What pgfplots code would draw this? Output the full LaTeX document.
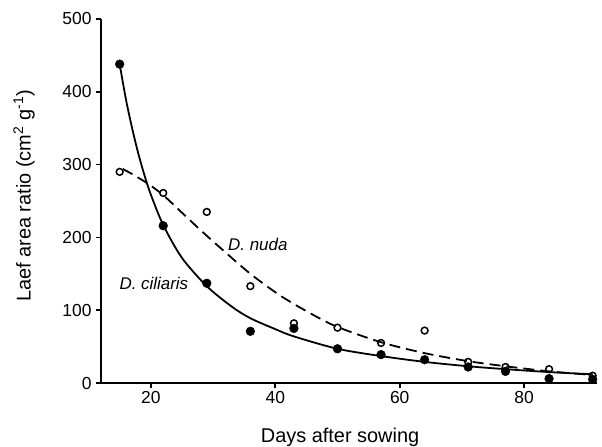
\documentclass[border=0pt]{standalone}
\usepackage{pgfplots}
\pgfplotsset{compat=1.18}
\usepackage{fontspec}
\setmainfont{Liberation Sans}
\begin{document}
\begin{tikzpicture}
\path[use as bounding box] (-101bp,-64bp) rectangle (501bp,383bp);
\begin{axis}[
  at={(0,0)}, anchor=south west,
  scale only axis, width=496bp, height=364bp,
  xmin=12, xmax=91.7, ymin=0, ymax=500,
  axis x line=bottom, axis y line=left,
  axis line style={-, line width=1.6pt},
  tick align=outside, major tick length=5bp,
  tick style={line width=1.6pt, black},
  xtick={20,40,60,80}, ytick={0,100,200,300,400,500},
  minor tick num=0,
  tick label style={font=\fontsize{17.5}{20}\selectfont},
  yticklabel style={xshift=-1bp},
  /pgf/number format/assume math mode=true,
  xlabel={Days after sowing},
  ylabel={Laef area ratio (cm\textsuperscript{2} g\textsuperscript{-1})},
  label style={font=\fontsize{20}{24}\selectfont},
  xlabel style={at={(axis description cs:0.482,-0.1648)}, anchor=base},
  ylabel style={at={(axis description cs:-0.1552,0.514)}, anchor=center},
  clip=false,
]
\addplot[black, line width=1.8pt, smooth] coordinates {
(15,438) (16,390) (17,350) (18,315) (19,285) (20,259) (22,217) (25,172) (29,133) (33,105) (36,89) (40,74) (43,64) (50,47) (57,37) (64,29) (71,23) (77,19) (84,15) (91,12)};
\addplot[black, line width=1.8pt, dash pattern=on 11bp off 6bp, smooth] coordinates {
(15.5,294) (17,287) (19.5,274) (22,258) (25,234) (28,210) (31,187) (36,150) (41,119) (46,94) (50,77) (57,56) (64,41) (71,30) (77,23) (84,16) (91,11)};
\addplot[only marks, mark=o, mark size=3.4bp, mark options={line width=1.5pt, fill=white, black}] coordinates {
(15,290) (22,261) (29,235) (36,133) (43,82) (50,76) (57,55) (64,72) (71,29) (77,22) (84,19) (91,10)};
\addplot[only marks, mark=*, mark size=4.4bp, mark options={black, fill=black}] coordinates {
(15,438) (22,216) (29,137) (36,71) (43,75) (50,47) (57,39) (64,32) (71,22) (77,16) (84,6) (91,5)};
\node[font=\itshape\fontsize{17}{20}\selectfont, anchor=west, inner sep=0pt] at (axis cs:32.4,191) {D. nuda};
\node[font=\itshape\fontsize{17}{20}\selectfont, anchor=center, inner sep=0pt] at (axis cs:20.5,137) {D. ciliaris};
\end{axis}
\end{tikzpicture}
\end{document}
